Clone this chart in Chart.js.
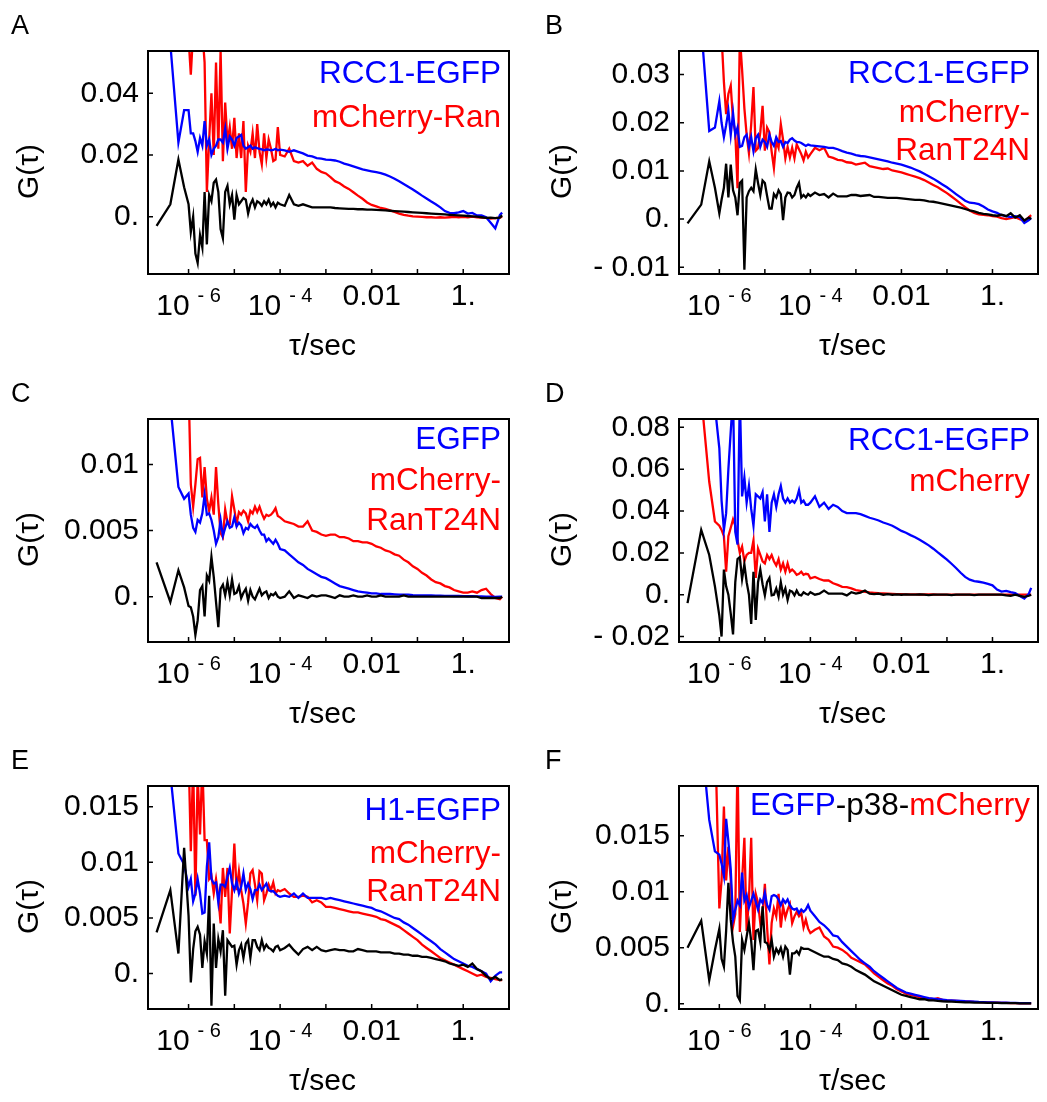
<!DOCTYPE html>
<html>
<head>
<meta charset="utf-8">
<script src="https://cdn.jsdelivr.net/npm/chart.js@4.4.1/dist/chart.umd.min.js"></script>
<style>
  body { margin:0; background:#fff; width:1047px; height:1102px; position:relative; overflow:hidden; }
  canvas { position:absolute; }
</style>
</head>
<body>
<canvas id="pA" width="520" height="367" style="left:0;top:0"></canvas>
<canvas id="pB" width="527" height="367" style="left:520px;top:0"></canvas>
<canvas id="pC" width="520" height="367" style="left:0;top:368px"></canvas>
<canvas id="pD" width="527" height="367" style="left:520px;top:368px"></canvas>
<canvas id="pE" width="520" height="367" style="left:0;top:735px"></canvas>
<canvas id="pF" width="527" height="367" style="left:520px;top:735px"></canvas>
<script>
// ===== DATA =====
// lag times (s), shared by every curve
const TAU = [2e-7,4e-7,6e-7,8e-7,
  1e-6,1.12e-6,1.26e-6,1.41e-6,1.58e-6,1.78e-6,2e-6,2.24e-6,2.51e-6,2.82e-6,3.16e-6,3.55e-6,3.98e-6,4.47e-6,5.01e-6,5.62e-6,6.31e-6,7.08e-6,7.94e-6,8.91e-6,
  1e-5,1.12e-5,1.26e-5,1.41e-5,1.58e-5,1.78e-5,2e-5,2.24e-5,2.51e-5,2.82e-5,3.16e-5,3.55e-5,3.98e-5,4.47e-5,5.01e-5,5.62e-5,6.31e-5,7.08e-5,7.94e-5,8.91e-5,
  1e-4,1.26e-4,1.58e-4,2e-4,2.51e-4,3.16e-4,3.98e-4,5.01e-4,6.31e-4,7.94e-4,
  1e-3,1.26e-3,1.58e-3,2e-3,2.51e-3,3.16e-3,3.98e-3,5.01e-3,6.31e-3,7.94e-3,
  0.01,0.0126,0.0158,0.02,0.0251,0.0316,0.0398,0.0501,0.0631,0.0794,
  0.1,0.126,0.158,0.2,0.251,0.316,0.398,0.501,0.631,0.794,
  1,1.26,1.58,2,2.51,3.16,3.98,5.01,6.31,7.08];

// A: RCC1-EGFP / mCherry-Ran
const A_EGFP = [null,0.056,0.024,0.0345,
  0.0345,0.027,0.027,0.0245,0.021,0.0255,0.023,0.031,0.023,0.025,
  0.020,0.022,0.023,0.025,0.025,0.024,0.0285,0.022,0.026,0.025,
  0.023,0.0255,0.026,0.0265,0.023,0.022,0.0225,0.023,0.022,0.0225,
  0.0222,0.022,0.0218,0.0215,0.0218,0.0217,0.0215,0.0216,0.022,0.0215,
  0.0217,0.0215,0.021,0.0215,0.021,0.0205,0.0198,0.0195,0.019,0.0188,
  0.0185,0.0184,0.0182,0.0178,0.0172,0.0168,0.0163,0.0158,0.0153,0.015,
  0.0147,0.0144,0.0141,0.0136,0.013,0.0123,0.0115,0.0106,0.0097,0.0088,
  0.0078,0.0068,0.0059,0.0049,0.004,0.003,0.0018,0.0012,0.0011,0.0014,
  0.0018,0.001,0.0012,0.0004,0.0004,-0.0002,-0.002,-0.0038,0.0005,0.0013];
const A_CHERRY = [null,null,null,null,
  0.058,0.046,0.06,0.065,0.065,0.062,0.060,0.050,0.008,0.025,
  0.040,0.020,0.050,0.022,0.054,0.018,0.037,0.024,0.029,0.022,
  0.032,0.019,0.027,0.019,0.031,0.008,0.023,0.021,0.027,0.019,
  0.030,0.021,0.017,0.027,0.019,0.025,0.022,0.018,0.0185,0.029,
  0.020,0.0195,0.022,0.018,0.0175,0.018,0.0165,0.0175,0.0155,0.0145,
  0.014,0.0128,0.0115,0.0108,0.0098,0.009,0.0079,0.0068,0.0058,0.0046,
  0.0038,0.0033,0.0028,0.0025,0.002,0.0015,0.001,0.0006,0.0003,0.0001,
  0.0,-0.0001,-0.0002,-0.0002,-0.0003,-0.0002,-0.0003,-0.0002,-0.0001,-0.0002,
  -0.0001,-0.0002,0.0,-0.0002,-0.0003,-0.0004,-0.0006,-0.0005,-0.0003,0.0];
const A_CROSS = [-0.003,0.004,0.0185,0.0095,
  0.004,-0.005,0.000,-0.012,-0.015,-0.006,-0.010,0.008,-0.009,0.007,
  0.005,0.011,0.012,0.008,-0.004,-0.007,0.008,0.010,0.004,0.007,
  -0.001,0.007,0.004,0.005,0.006,0.0055,0.001,0.004,0.0055,0.003,
  0.005,0.0045,0.0035,0.005,0.004,0.0055,0.0035,0.0045,0.003,0.0045,
  0.004,0.0035,0.007,0.004,0.0035,0.004,0.0035,0.003,0.003,0.003,
  0.003,0.003,0.0028,0.0027,0.0026,0.0025,0.0025,0.0024,0.0024,0.0023,
  0.0023,0.0022,0.0021,0.002,0.0019,0.0018,0.0017,0.0016,0.0015,0.0014,
  0.0013,0.0012,0.0011,0.001,0.0009,0.0008,0.0007,0.0006,0.0005,0.0004,
  0.0003,0.0002,0.0001,0.0,-0.0002,-0.0004,-0.0003,-0.0005,-0.0003,0.0004];

// B: RCC1-EGFP / mCherry-RanT24N
const B_EGFP = [null,0.040,0.0183,0.019,
  0.0245,0.020,0.017,0.0195,0.0225,0.0175,0.022,0.0175,0.019,0.015,
  0.0152,0.017,0.0175,0.015,0.017,0.0141,0.0168,0.0175,0.015,0.0165,
  0.016,0.015,0.0175,0.016,0.0152,0.017,0.016,0.0162,0.015,0.016,
  0.0158,0.0165,0.0168,0.0163,0.016,0.016,0.0158,0.0155,0.0152,0.0155,
  0.0153,0.0152,0.0151,0.015,0.0148,0.0148,0.0145,0.0141,0.0138,0.0136,
  0.0133,0.0131,0.013,0.0128,0.0126,0.0124,0.0122,0.012,0.0117,0.0115,
  0.0113,0.011,0.0107,0.0103,0.0099,0.0094,0.0089,0.0084,0.0078,0.0072,
  0.0066,0.0059,0.0052,0.0045,0.0038,0.0034,0.0033,0.0031,0.0026,0.002,
  0.0016,0.0013,0.0008,0.0006,0.0004,0.0006,0.0004,-0.0008,-0.0002,0.0002];
const B_CHERRY = [null,null,null,null,
  null,0.038,0.0285,0.0218,0.026,0.0277,0.0205,0.018,0.0064,0.038,
  0.031,0.023,0.0175,0.0137,0.0196,0.0274,0.0142,0.0147,0.018,0.0235,
  0.0142,0.019,0.018,0.014,0.0106,0.0162,0.0148,0.0197,0.0165,0.0126,
  0.015,0.0128,0.0148,0.0126,0.0155,0.0145,0.0135,0.0122,0.014,0.0128,
  0.0135,0.0148,0.0143,0.0148,0.013,0.0127,0.0123,0.0122,0.0118,0.0117,
  0.0113,0.0115,0.0117,0.011,0.0108,0.0106,0.0104,0.0105,0.0101,0.0099,
  0.0097,0.0094,0.0091,0.0088,0.0085,0.0081,0.0076,0.0071,0.0066,0.006,
  0.0054,0.0047,0.004,0.0032,0.0025,0.0018,0.0013,0.001,0.0009,0.0008,
  0.0006,0.0005,0.0002,0.0,0.0002,0.0004,0.0,-0.0004,0.0004,0.0008];
const B_CROSS = [-0.0009,0.003,0.012,0.0065,
  0.0012,0.004,0.0065,0.0115,0.0045,0.0113,0.006,0.0045,0.0008,0.0075,
  0.008,-0.0105,0.0045,0.0058,0.0065,0.0058,0.0103,0.0075,0.005,0.008,
  0.0075,0.0048,0.0022,0.0022,0.0052,0.0045,0.006,0.0052,-0.0002,0.0045,
  0.0055,0.0054,0.0045,0.005,0.0065,0.0075,0.0045,0.005,0.0045,0.0052,
  0.0048,0.0055,0.005,0.0052,0.0045,0.0053,0.0047,0.0047,0.0047,0.005,
  0.005,0.0048,0.0049,0.005,0.0046,0.0046,0.0045,0.0044,0.0044,0.0044,
  0.0043,0.0042,0.0041,0.004,0.004,0.0039,0.0037,0.0036,0.0034,0.0032,
  0.003,0.0028,0.0026,0.0024,0.0021,0.0018,0.0016,0.0013,0.0011,0.001,
  0.0008,0.0007,0.0009,0.0006,0.0012,0.0003,0.0008,-0.0003,0.0003,0.0];

// C: EGFP / mCherry-RanT24N
const C_EGFP = [null,0.0145,0.0083,0.0074,
  0.0078,0.0062,0.0052,0.0049,0.0058,0.0056,0.0063,0.0077,0.0062,0.0063,
  0.0058,0.005,0.004,0.0045,0.0058,0.0046,0.0052,0.0057,0.0052,0.0053,
  0.006,0.0053,0.0056,0.0054,0.0048,0.0052,0.0051,0.0055,0.0053,0.0052,
  0.0054,0.005,0.0047,0.0047,0.0042,0.0044,0.0042,0.004,0.0043,0.004,
  0.0036,0.0035,0.0032,0.0029,0.0026,0.0024,0.0021,0.0019,0.0017,0.0015,
  0.0014,0.0012,0.001,0.0008,0.0007,0.0006,0.0005,0.0004,0.00035,0.0003,
  0.00025,0.00025,0.0002,0.0002,0.0002,0.00018,0.00015,0.00015,0.00015,0.00012,
  0.0001,0.0001,0.0001,0.0001,0.00008,0.00008,0.00006,0.00006,0.00005,0.00005,
  0.00004,0.00003,0.00003,0.00002,0.00002,0.0,0.0,-0.00002,0.0,0.0];
const C_CHERRY = [null,null,null,null,
  0.016,0.0085,0.0068,0.0085,0.0104,0.0105,0.0075,0.0098,0.0074,0.0065,
  0.0075,0.0062,0.0098,0.007,0.0048,0.0045,0.0066,0.0056,0.0055,0.0076,
  0.0066,0.0055,0.0064,0.0062,0.0065,0.0063,0.0057,0.0065,0.0063,0.0068,
  0.0064,0.0068,0.0063,0.0059,0.0062,0.0061,0.0062,0.0064,0.0067,0.0061,
  0.006,0.0057,0.0056,0.0055,0.0053,0.0053,0.0057,0.005,0.0049,0.0047,
  0.0046,0.0047,0.0047,0.0045,0.0045,0.0044,0.0042,0.0042,0.0041,0.0041,
  0.004,0.0038,0.0037,0.0035,0.0034,0.0032,0.0031,0.0028,0.0026,0.0023,
  0.0021,0.0018,0.0016,0.0013,0.0011,0.001,0.0008,0.0007,0.0005,0.0004,
  0.0003,0.0003,0.0004,0.0003,0.0005,0.0006,0.0002,-0.0001,-0.0002,0.0];
const C_CROSS = [0.0026,-0.0004,0.002,0.0007,
  -0.0007,-0.0008,-0.0015,-0.0029,-0.0018,0.0005,0.0008,-0.0015,0.0016,0.0012,
  0.003,0.0015,-0.0004,-0.0023,0.0006,0.0009,0.0001,0.0011,0.0001,0.0013,
  0.0002,0.0003,0.0008,-0.0001,0.0003,0.0006,-0.0003,0.0005,0.0,-0.0002,
  0.0002,0.0006,0.0001,0.0003,0.0004,-0.0001,0.0002,0.0001,0.0003,0.0,
  -0.0001,0.0,0.0004,-0.0001,0.0001,0.0,-0.0001,0.0001,0.0,0.0001,
  0.0001,0.0,-0.0001,0.0001,0.0,0.0,0.0001,0.0,0.0,0.0001,
  0.0,0.0,0.0001,0.0,0.0,0.0,0.0,0.0001,0.0,0.0,
  0.0,0.0,0.0,0.0,0.0,0.0,0.0,0.0,0.0,0.0,
  0.0,0.0,0.0,0.0,-0.0001,-0.0001,-0.0001,-0.0001,-0.0001,0.0];

// D: RCC1-EGFP / mCherry
const D_EGFP = [null,null,null,0.09,
  0.07,0.045,0.031,0.039,0.06,0.078,0.095,0.03,0.024,0.095,
  0.047,0.056,0.044,0.052,0.041,0.033,0.048,0.047,0.046,0.049,
  0.035,0.048,0.03,0.044,0.048,0.042,0.048,0.052,0.046,0.044,
  0.046,0.044,0.045,0.044,0.046,0.05,0.044,0.045,0.043,0.043,
  0.044,0.047,0.042,0.044,0.041,0.043,0.042,0.04,0.039,0.039,
  0.039,0.0385,0.0377,0.0368,0.0362,0.0355,0.0345,0.0338,0.033,0.0318,
  0.0305,0.0296,0.0285,0.0275,0.0263,0.025,0.0236,0.022,0.0202,0.0185,
  0.0168,0.0148,0.0128,0.0105,0.0085,0.0072,0.0065,0.0062,0.0058,0.0052,
  0.0045,0.0025,0.0015,0.0018,0.0012,0.0008,-0.0006,-0.0018,0.0005,0.0033];
const D_CHERRY = [null,0.095,0.054,0.035,
  0.033,0.031,0.028,0.011,0.028,0.032,0.036,0.033,0.026,0.02,
  0.023,0.016,0.019,0.02,0.02,0.026,0.008,0.022,0.019,0.016,
  0.015,0.019,0.017,0.019,0.016,0.014,0.017,0.012,0.015,0.011,
  0.015,0.011,0.012,0.011,0.0095,0.01,0.011,0.0095,0.01,0.0098,
  0.0078,0.0085,0.0075,0.0068,0.0068,0.0055,0.0047,0.0038,0.0036,0.003,
  0.0022,0.0018,0.0014,0.0011,0.0009,0.0007,0.0006,0.0005,0.0004,0.0003,
  0.0003,0.0002,0.0002,0.0002,0.0001,0.0001,0.0001,0.0001,0.0,0.0,
  0.0,0.0,0.0,0.0,0.0,0.0,0.0,0.0,0.0,0.0,
  0.0,0.0,0.0,0.0,0.0,0.0,0.0,0.0,0.0,0.0];
const D_CROSS = [-0.004,0.031,0.019,0.004,
  -0.01,-0.02,0.012,0.004,0.0,-0.009,-0.019,0.006,0.017,0.018,
  0.0075,0.0145,0.006,0.0,-0.014,0.011,-0.012,0.006,0.012,0.005,
  -0.0003,0.006,0.008,-0.0003,0.0,0.003,-0.001,0.006,0.0,0.003,
  -0.0025,0.002,0.0015,-0.0003,0.002,0.0,-0.0003,0.0012,0.0005,0.0,
  0.0012,0.0,0.0005,0.002,0.0005,0.0005,0.0005,0.0005,-0.0003,0.0012,
  0.0005,0.001,0.002,0.0005,0.0003,0.0005,0.0,0.0003,0.0,0.0002,
  0.0,0.0002,0.0,0.0,0.0002,0.0,-0.0002,0.0,0.0,0.0,
  0.0,-0.0002,0.0,0.0,0.0,0.0,-0.0002,0.0,0.0,0.0,
  0.0,0.0,0.0,-0.0003,-0.0005,0.0,-0.0005,-0.001,-0.0005,0.0];

// E: H1-EGFP / mCherry-RanT24N
const E_EGFP = [null,0.018,0.0108,0.0098,
  0.0078,0.0085,0.0065,0.0072,0.0085,0.0072,0.0054,0.0055,0.0096,0.0118,
  0.0085,0.0081,0.0082,0.0064,0.008,0.008,0.0078,0.0087,0.0095,0.0081,
  0.0075,0.0083,0.0072,0.0078,0.009,0.0075,0.0081,0.0076,0.0067,0.0075,
  0.0075,0.008,0.0075,0.0078,0.0081,0.0075,0.0074,0.0074,0.0072,0.007,
  0.0069,0.007,0.0069,0.0072,0.0068,0.0072,0.0068,0.0068,0.0068,0.0068,
  0.0067,0.0068,0.0067,0.0066,0.0065,0.0064,0.0063,0.0062,0.0061,0.006,
  0.0059,0.0057,0.0056,0.0054,0.0052,0.005,0.0049,0.0046,0.0044,0.0041,
  0.0038,0.0035,0.0032,0.0029,0.0026,0.0022,0.0019,0.0016,0.0013,0.0011,
  0.0009,0.0007,0.0006,0.0004,0.0002,0.0,-0.0007,-0.0002,0.0001,0.0001];
const E_CHERRY = [null,null,null,null,
  0.02,0.011,0.019,0.007,0.018,0.0125,0.019,0.012,0.012,0.0085,
  0.0088,0.0072,0.0085,0.0069,0.0045,0.0095,0.0069,0.0095,0.0036,0.0075,
  0.0117,0.0075,0.0092,0.0075,0.0063,0.0045,0.0064,0.009,0.0093,0.008,
  0.0066,0.0092,0.009,0.0066,0.0072,0.008,0.0075,0.0082,0.0072,0.0075,
  0.0074,0.0076,0.0072,0.0069,0.0069,0.007,0.0069,0.0064,0.0066,0.0064,
  0.006,0.006,0.0059,0.0058,0.0057,0.0056,0.0055,0.0055,0.0054,0.0053,
  0.0052,0.0051,0.0049,0.0048,0.0046,0.0044,0.0042,0.0039,0.0036,0.0033,
  0.003,0.0026,0.0023,0.002,0.0017,0.0014,0.0012,0.001,0.0008,0.0006,
  0.0004,0.0002,0.0,-0.0002,-0.0001,-0.0003,-0.0004,-0.0005,-0.0006,-0.0006];
const E_CROSS = [0.0037,0.0075,0.0018,0.0113,
  0.0052,-0.0008,0.0022,0.0038,0.0042,0.0035,0.0005,0.0029,0.0018,0.007,
  -0.0029,0.0045,0.0005,0.0031,0.002,0.0039,-0.002,0.003,0.0027,0.0024,
  0.0025,0.0008,0.0021,0.0026,0.0014,0.0027,0.003,0.0014,0.003,0.003,
  0.0024,0.0021,0.003,0.0022,0.0026,0.0023,0.0022,0.002,0.0024,0.0025,
  0.0021,0.0023,0.0026,0.0021,0.0017,0.0022,0.0024,0.0021,0.0024,0.0021,
  0.002,0.0021,0.0022,0.0021,0.0021,0.002,0.002,0.0022,0.0021,0.002,
  0.002,0.002,0.0019,0.0019,0.0019,0.0018,0.0018,0.0017,0.0017,0.0016,
  0.0016,0.0015,0.0015,0.0014,0.0013,0.0012,0.0011,0.0009,0.0008,0.0007,
  0.0008,0.0006,0.0009,0.0004,0.0002,-0.0002,-0.0005,-0.0003,-0.0006,-0.0005];

// F: EGFP-p38-mCherry
const F_EGFP = [null,0.024,0.0164,0.0136,
  0.0133,0.0125,0.0114,0.0165,0.0145,0.012,0.0075,0.0084,0.0092,0.0088,
  0.0117,0.0092,0.0097,0.0086,0.0092,0.0098,0.0091,0.0084,0.0093,0.009,
  0.0099,0.0088,0.0084,0.0096,0.0097,0.0096,0.0093,0.0088,0.0093,0.009,
  0.0093,0.0088,0.0085,0.0084,0.0085,0.0081,0.0084,0.0082,0.0084,0.0088,
  0.0083,0.0078,0.0073,0.007,0.0066,0.0061,0.006,0.0055,0.0051,0.0047,
  0.0043,0.0039,0.0036,0.0033,0.0029,0.0026,0.0023,0.002,0.0017,0.0014,
  0.0012,0.001,0.0009,0.0008,0.0007,0.0006,0.0005,0.00045,0.0004,0.00036,
  0.00032,0.0003,0.00028,0.00025,0.00022,0.0002,0.00018,0.00016,0.00015,0.00013,
  0.00012,0.0001,0.0001,0.00009,0.00008,0.00007,0.00006,0.00006,0.00005,0.00005];
const F_CHERRY = [null,null,null,0.025,
  0.0085,0.011,0.0176,0.011,0.014,0.011,0.0069,0.008,0.022,0.0064,
  0.011,0.0148,0.0065,0.0093,0.0148,0.0057,0.0098,0.009,0.0072,0.008,
  0.0107,0.0068,0.0035,0.0072,0.0085,0.0078,0.0098,0.0068,0.0087,0.0077,
  0.0084,0.0089,0.0072,0.0078,0.0082,0.0078,0.0081,0.0068,0.0075,0.0067,
  0.0063,0.0066,0.0068,0.006,0.0057,0.0051,0.005,0.0048,0.0045,0.0041,
  0.0039,0.0037,0.0035,0.0031,0.0027,0.0024,0.0021,0.0018,0.0016,0.0013,
  0.0011,0.0009,0.0008,0.0007,0.0006,0.0005,0.00045,0.0004,0.0005,0.00035,
  0.0003,0.00028,0.00025,0.00022,0.0002,0.00018,0.00016,0.00015,0.00013,0.00012,
  0.0001,0.0001,0.00008,0.00007,0.00006,0.00005,0.00004,0.00004,0.00003,0.00003];
const F_CROSS = [0.005,0.0074,0.0021,0.0048,
  0.0067,0.004,0.0033,0.0065,0.0108,0.0075,0.0055,0.0042,0.0007,0.0003,
  0.0057,0.0048,0.006,0.0072,0.0056,0.003,0.0065,0.0066,0.0055,0.0087,
  0.0055,0.0054,0.0048,0.0057,0.0042,0.0049,0.0045,0.005,0.0042,0.0051,
  0.0048,0.0026,0.0045,0.0045,0.0047,0.0044,0.005,0.0049,0.0049,0.0049,
  0.0048,0.0046,0.0044,0.0042,0.0042,0.004,0.0039,0.0036,0.0035,0.0033,
  0.003,0.0028,0.0026,0.0023,0.002,0.0018,0.0016,0.0014,0.0012,0.001,
  0.0008,0.0007,0.0006,0.0005,0.0004,0.0004,0.0003,0.0003,0.00025,0.00022,
  0.0002,0.00018,0.00016,0.00015,0.00013,0.00012,0.0001,0.0001,0.00009,0.00008,
  0.00008,0.00007,0.00006,0.00006,0.00005,0.00005,0.00004,0.00004,0.00003,0.00003];

// axis ticks
const X_TICKS = [1e-6,1e-5,1e-4,1e-3,1e-2,1e-1,1,10];
const X_LABEL_AT = [1e-6,1e-4,0.01,1];
const X_LABEL_BASE = ["10","10","0.01","1."];
const X_LABEL_SUP = ["- 6","- 4","",""];
const A_YTICKS = [0,0.02,0.04];
const B_YTICKS = [-0.01,0,0.01,0.02,0.03];
const C_YTICKS = [0,0.005,0.01];
const D_YTICKS = [-0.02,0,0.02,0.04,0.06,0.08];
const E_YTICKS = [0,0.005,0.01,0.015];
const F_YTICKS = [0,0.005,0.01,0.015];

// ===== STYLE =====
const BLUE = "#0000ff", RED = "#ff0000", BLACK = "#000000";
const FONT = '"Liberation Sans", Arial, Helvetica, sans-serif';

const PANELS = [
  {id:"pA", letter:"A", right:false, y:[-0.0186,0.0537], yt:A_YTICKS, s:[A_CROSS,A_EGFP,A_CHERRY],
   legend:[[["RCC1-EGFP",BLUE]],[["mCherry-Ran",RED]]], legY:[32,76]},
  {id:"pB", letter:"B", right:true, y:[-0.0114,0.0349], yt:B_YTICKS, s:[B_CROSS,B_EGFP,B_CHERRY],
   legend:[[["RCC1-EGFP",BLUE]],[["mCherry-",RED]],[["RanT24N",RED]]], legY:[32,71,109]},
  {id:"pC", letter:"C", right:false, y:[-0.00343,0.01344], yt:C_YTICKS, s:[C_CROSS,C_EGFP,C_CHERRY],
   legend:[[["EGFP",BLUE]],[["mCherry-",RED]],[["RanT24N",RED]]], legY:[30,71,111]},
  {id:"pD", letter:"D", right:true, y:[-0.0226,0.084], yt:D_YTICKS, s:[D_CROSS,D_EGFP,D_CHERRY],
   legend:[[["RCC1-EGFP",BLUE]],[["mCherry",RED]]], legY:[31,72]},
  {id:"pE", letter:"E", right:false, y:[-0.00319,0.01687], yt:E_YTICKS, s:[E_CROSS,E_EGFP,E_CHERRY],
   legend:[[["H1-EGFP",BLUE]],[["mCherry-",RED]],[["RanT24N",RED]]], legY:[34,77,115]},
  {id:"pF", letter:"F", right:true, y:[-0.00047,0.01943], yt:F_YTICKS, s:[F_CROSS,F_EGFP,F_CHERRY],
   legend:[[["EGFP",BLUE],["-p38-",BLACK],["mCherry",RED]]], legY:[29]}
];

function fmtY(v){
  if (v === 0) return "0.";
  if (v < 0) return "- " + String(-v);
  return String(v);
}

// frame, inward ticks, x labels with superscripts, titles, legend
const decor = {
  id: "decor",
  afterDraw(chart){
    const o = chart.options.plugins.decor;
    const ctx = chart.ctx, a = chart.chartArea;
    const xs = chart.scales.x, ys = chart.scales.y;
    ctx.save();
    ctx.strokeStyle = "#000";
    ctx.lineWidth = 2;
    ctx.strokeRect(a.left, a.top, a.right - a.left, a.bottom - a.top);
    ctx.lineWidth = 1.5;
    ctx.beginPath();
    xs.ticks.forEach(t => {
      const px = xs.getPixelForValue(t.value);
      if (px > a.left + 2 && px < a.right - 2) { ctx.moveTo(px, a.bottom); ctx.lineTo(px, a.bottom - 5); }
    });
    ys.ticks.forEach(t => {
      const py = ys.getPixelForValue(t.value);
      ctx.moveTo(a.left, py); ctx.lineTo(a.left + 5, py);
    });
    ctx.stroke();

    ctx.fillStyle = "#000";
    ctx.textBaseline = "alphabetic";
    ctx.textAlign = "left";
    X_LABEL_AT.forEach((v, i) => {
      const px = xs.getPixelForValue(v);
      const base = X_LABEL_BASE[i], sup = X_LABEL_SUP[i];
      ctx.font = "30px " + FONT;
      const wb = ctx.measureText(base).width;
      ctx.font = "20px " + FONT;
      const ws = sup ? ctx.measureText(sup).width + 8 : 0;
      const x0 = px - (wb + ws) / 2;
      ctx.font = "30px " + FONT;
      ctx.fillText(base, x0, a.bottom + (sup ? 41 : 31));
      if (sup) {
        ctx.font = "20px " + FONT;
        ctx.fillText(sup, x0 + wb + 8, a.bottom + 28);
      }
    });

    // axis titles
    ctx.font = "30px " + FONT;
    ctx.textAlign = "center";
    ctx.fillText("\u03c4/sec", (a.left + a.right) / 2 - 6, 355);
    ctx.save();
    ctx.translate(o.right ? 43 : 30, (a.top + a.bottom) / 2 + 9);
    ctx.rotate(-Math.PI / 2);
    ctx.textBaseline = "middle";
    ctx.fillText("G(\u03c4)", 0, 0);
    ctx.restore();

    // panel letter
    ctx.font = "27px " + FONT;
    ctx.textAlign = "left";
    ctx.fillText(o.letter, o.right ? 25 : 11, 33.5);

    // legend, right aligned inside the frame
    ctx.font = "31.5px " + FONT;
    o.legend.forEach((line, li) => {
      const total = line.reduce((s, p) => s + ctx.measureText(p[0]).width, 0);
      let x = a.right - 8 - total;
      line.forEach(p => {
        ctx.fillStyle = p[1];
        ctx.fillText(p[0], x, a.top + o.legY[li]);
        x += ctx.measureText(p[0]).width;
      });
    });
    ctx.restore();
  }
};

function makePanel(p){
  const colors = [BLACK, BLUE, RED];
  const datasets = p.s.map((arr, k) => ({
    data: TAU.map((t, i) => ({x: t, y: arr[i]})),
    borderColor: colors[k],
    borderWidth: 2.3,
    pointRadius: 0,
    tension: 0,
    fill: false,
    spanGaps: false
  }));
  new Chart(document.getElementById(p.id), {
    type: "line",
    data: {datasets},
    plugins: [decor],
    options: {
      responsive: false,
      animation: false,
      devicePixelRatio: 1,
      layout: {padding: {left: 0, right: p.right ? 9 : 11, top: 51, bottom: 0}},
      plugins: {
        legend: {display: false},
        tooltip: {enabled: false},
        decor: {letter: p.letter, right: p.right, legend: p.legend, legY: p.legY}
      },
      scales: {
        x: {
          type: "logarithmic", min: 1.3e-7, max: 10,
          afterBuildTicks: s => { s.ticks = X_TICKS.map(v => ({value: v})); },
          afterFit: s => { s.height = 93; },
          ticks: {display: false},
          grid: {display: false, drawTicks: false},
          border: {display: false}
        },
        y: {
          type: "linear", min: p.y[0], max: p.y[1],
          afterBuildTicks: s => { s.ticks = p.yt.map(v => ({value: v})); },
          afterFit: s => { s.width = p.right ? 159 : 148; },
          ticks: {
            callback: v => fmtY(v),
            font: {family: FONT, size: 30},
            color: "#000",
            padding: 9,
            autoSkip: false
          },
          grid: {display: false, drawTicks: false},
          border: {display: false}
        }
      }
    }
  });
}

// INIT
PANELS.forEach(makePanel);
</script>
</body>
</html>
